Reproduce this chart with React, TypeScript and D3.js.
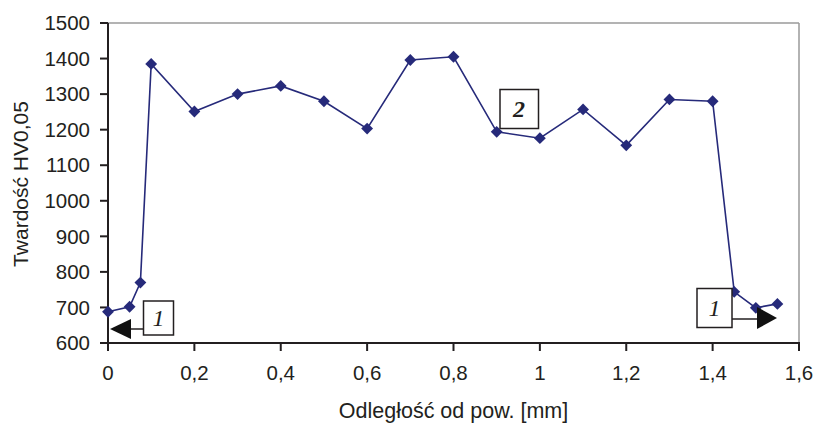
import React from "react";
import * as d3 from "d3";

const distances = [0, 0.05, 0.075, 0.1, 0.2, 0.3, 0.4, 0.5, 0.6, 0.7, 0.8, 0.9, 1.0, 1.1, 1.2, 1.3, 1.4, 1.45, 1.5, 1.55];
const hardness = [688, 702, 770, 1385, 1251, 1300, 1323, 1280, 1203, 1396, 1405, 1194, 1176, 1257, 1156, 1285, 1280, 744, 699, 710];
const xTicks = [0, 0.2, 0.4, 0.6, 0.8, 1, 1.2, 1.4, 1.6];
const yTicks = [600, 700, 800, 900, 1000, 1100, 1200, 1300, 1400, 1500];
const xTitle = "Odległość od pow. [mm]";
const yTitle = "Twardość HV0,05";

const W = 815, H = 425;
const L = 108, R = 799, T = 23, B = 343;
const NAVY = "#262a7a";
const FONT = "'Liberation Sans', Arial, sans-serif";
const SERIF = "'Liberation Serif', 'Times New Roman', serif";

export default function App() {
  const x = d3.scaleLinear().domain([0, 1.6]).range([L, R]);
  const y = d3.scaleLinear().domain([600, 1500]).range([B, T]);
  const pts = distances.map((d, i) => [x(d), y(hardness[i])] as [number, number]);
  const line = d3.line()(pts) || "";
  const marker = d3.symbol(d3.symbolSquare, 70)() || "";
  const fmt = (v: number) => String(v).replace(".", ",");

  return (
    <svg width={W} height={H} style={{ position: "absolute", left: 0, top: 0, background: "#fff" }}>
      <rect x={0} y={0} width={W} height={H} fill="#fff" />
      {/* frame */}
      <line x1={L} x2={R} y1={T} y2={T} stroke="#9a9a9a" strokeWidth={1.5} />
      <line x1={R} x2={R} y1={T} y2={B} stroke="#9a9a9a" strokeWidth={1.5} />
      {/* axes */}
      <line x1={L} x2={L} y1={T} y2={B + 1} stroke="#231f20" strokeWidth={2} />
      <line x1={L - 1} x2={R + 1} y1={B} y2={B} stroke="#231f20" strokeWidth={2} />
      {yTicks.map((t) => (
        <g key={"y" + t}>
          <line x1={L - 8} x2={L} y1={y(t)} y2={y(t)} stroke="#231f20" strokeWidth={2} />
          <text x={90} y={y(t)} dy="0.35em" textAnchor="end" fontFamily={FONT} fontSize={20.5} fill="#231f20">
            {t}
          </text>
        </g>
      ))}
      {xTicks.map((t) => (
        <g key={"x" + t}>
          <line x1={x(t)} x2={x(t)} y1={B} y2={B + 8} stroke="#231f20" strokeWidth={2} />
          <text x={x(t)} y={380} textAnchor="middle" fontFamily={FONT} fontSize={20.5} fill="#231f20">
            {fmt(t)}
          </text>
        </g>
      ))}
      <text x={(L + R) / 2} y={418} textAnchor="middle" fontFamily={FONT} fontSize={21.5} fill="#231f20">
        {xTitle}
      </text>
      <text
        transform={`translate(28,${(T + B) / 2 + 1}) rotate(-90)`}
        textAnchor="middle"
        fontFamily={FONT}
        fontSize={21}
        fill="#231f20"
      >
        {yTitle}
      </text>
      {/* series */}
      <path d={line} fill="none" stroke={NAVY} strokeWidth={1.6} />
      {pts.map((p, i) => (
        <path key={"m" + i} d={marker} transform={`translate(${p[0]},${p[1]}) rotate(45)`} fill={NAVY} />
      ))}
      {/* annotations */}
      <g>
        <rect x={143.5} y={301} width={30} height={34} fill="#fff" stroke="#231f20" strokeWidth={1.5} />
        <text x={158.5} y={326} textAnchor="middle" fontFamily={SERIF} fontStyle="italic" fontSize={24} fill="#231f20">1</text>
        <line x1={130} x2={143.5} y1={329} y2={329} stroke="#231f20" strokeWidth={1.5} />
        <path d="M110,329 L131,319 L131,339 Z" fill="#111" />
      </g>
      <g>
        <rect x={697} y={288.5} width={35} height={39} fill="#fff" stroke="#231f20" strokeWidth={1.5} />
        <text x={714.5} y={316} textAnchor="middle" fontFamily={SERIF} fontStyle="italic" fontSize={24} fill="#231f20">1</text>
        <line x1={732} x2={758} y1={319} y2={319} stroke="#231f20" strokeWidth={1.5} />
        <path d="M777,318 L757,307 L757,329 Z" fill="#111" />
      </g>
      <g>
        <rect x={500} y={89.5} width={38.5} height={39} fill="#fff" stroke="#231f20" strokeWidth={1.5} />
        <text x={519} y={117} textAnchor="middle" fontFamily={SERIF} fontStyle="italic" fontWeight="bold" fontSize={24} fill="#231f20">2</text>
      </g>
    </svg>
  );
}
